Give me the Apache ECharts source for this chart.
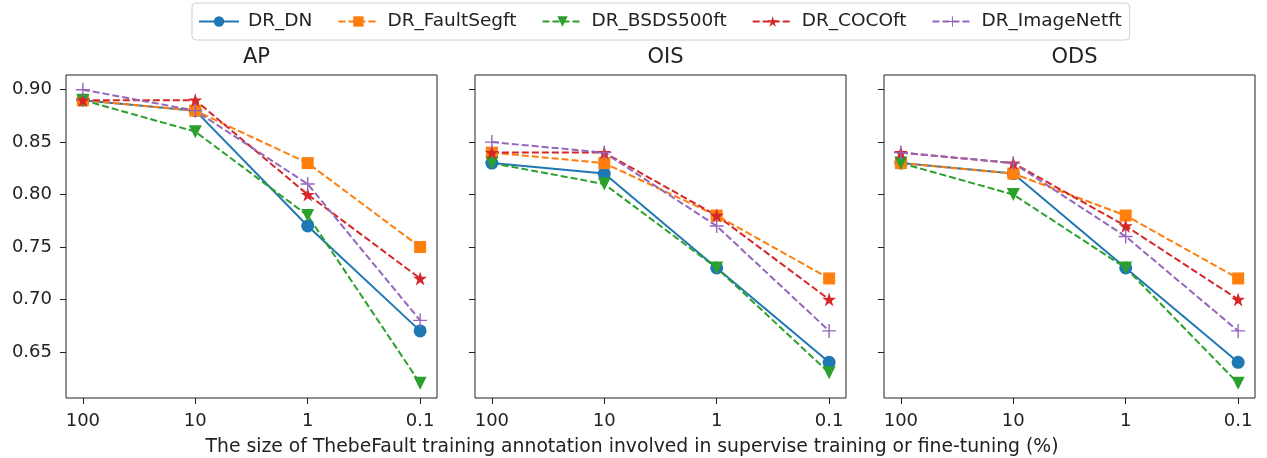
<!DOCTYPE html>
<html>
<head>
<meta charset="utf-8">
<script src="https://cdn.jsdelivr.net/npm/echarts@6/dist/echarts.min.js"></script>
<style>
  html, body { margin: 0; padding: 0; background: #fff; }
  #chart { width: 1267px; height: 458px; }
</style>
</head>
<body>
<div id="chart"></div>
<script>
// annotation sizes (%)
const categories = ['100', '10', '1', '0.1'];
const yTicks = [0.65, 0.70, 0.75, 0.80, 0.85, 0.90];
const panelTitles = ['AP', 'OIS', 'ODS'];
const seriesNames = ['DR_DN', 'DR_FaultSegft', 'DR_BSDS500ft', 'DR_COCOft', 'DR_ImageNetft'];

// values per panel, one row per series
const apDN       = [0.89, 0.88, 0.77, 0.67];
const apFault    = [0.89, 0.88, 0.83, 0.75];
const apBSDS     = [0.89, 0.86, 0.78, 0.62];
const apCOCO     = [0.89, 0.89, 0.80, 0.72];
const apImageNet = [0.90, 0.88, 0.81, 0.68];

const oisDN       = [0.83, 0.82, 0.73, 0.64];
const oisFault    = [0.84, 0.83, 0.78, 0.72];
const oisBSDS     = [0.83, 0.81, 0.73, 0.63];
const oisCOCO     = [0.84, 0.84, 0.78, 0.70];
const oisImageNet = [0.85, 0.84, 0.77, 0.67];

const odsDN       = [0.83, 0.82, 0.73, 0.64];
const odsFault    = [0.83, 0.82, 0.78, 0.72];
const odsBSDS     = [0.83, 0.80, 0.73, 0.62];
const odsCOCO     = [0.84, 0.83, 0.77, 0.70];
const odsImageNet = [0.84, 0.83, 0.76, 0.67];

const panels = [
  [apDN, apFault, apBSDS, apCOCO, apImageNet],
  [oisDN, oisFault, oisBSDS, oisCOCO, oisImageNet],
  [odsDN, odsFault, odsBSDS, odsCOCO, odsImageNet]
];

const FONT = 'DejaVu Sans';
const colors = ['#1f77b4', '#ff7f0e', '#2ca02c', '#d62728', '#9467bd'];
const STAR = 'path://M50,0L61.2,34.5L97.6,34.5L68.2,55.9L79.4,90.5L50,69.1L20.6,90.5L31.8,55.9L2.4,34.5L38.8,34.5Z';
const PLUS = 'path://M4.5,0H5.5V4.5H10V5.5H5.5V10H4.5V5.5H0V4.5H4.5Z';
const styles = [
  { symbol: 'circle', size: 13, rotate: 0, dash: 'solid' },
  { symbol: 'rect', size: 12, rotate: 0, dash: [7, 3] },
  { symbol: 'triangle', size: 13, rotate: 180, dash: [7, 3] },
  { symbol: STAR, size: 14, rotate: 0, dash: [7, 3] },
  { symbol: PLUS, size: 14, rotate: 0, dash: [7, 3] }
];

const gridLefts = [66, 475, 884];
const grids = gridLefts.map(l => ({
  left: l, top: 75, width: 371, height: 323,
  show: true, borderColor: '#222', borderWidth: 1, backgroundColor: 'transparent'
}));

const xAxes = gridLefts.map((_, g) => ({
  type: 'value', gridIndex: g, min: -0.15, max: 3.15, position: 'bottom',
  splitLine: { show: false },
  axisLine: { show: false, onZero: false },
  axisTick: { show: true, customValues: [0, 1, 2, 3], length: 6, lineStyle: { color: '#222' } },
  axisLabel: {
    customValues: [0, 1, 2, 3], margin: 14,
    fontFamily: FONT, fontSize: 18, color: '#222',
    formatter: v => categories[Math.round(v)]
  }
}));

const yAxes = gridLefts.map((_, g) => ({
  type: 'value', gridIndex: g, min: 0.606, max: 0.914, position: 'left',
  splitLine: { show: false },
  axisLine: { show: false, onZero: false },
  axisTick: { show: true, customValues: yTicks, length: 6, lineStyle: { color: '#222' } },
  axisLabel: {
    show: g === 0, customValues: yTicks, margin: 14,
    fontFamily: FONT, fontSize: 18, color: '#222',
    formatter: v => v.toFixed(2)
  }
}));

const series = [];
panels.forEach((rows, g) => {
  rows.forEach((vals, s) => {
    const st = styles[s];
    series.push({
      name: seriesNames[s],
      type: 'line',
      xAxisIndex: g, yAxisIndex: g,
      data: vals.map((v, i) => [i, v]),
      symbol: st.symbol, symbolSize: st.size, symbolRotate: st.rotate,
      showAllSymbol: true,
      color: colors[s],
      lineStyle: { width: 2, type: st.dash, color: colors[s] },
      itemStyle: { color: colors[s] },
      emphasis: { disabled: true },
      animation: false
    });
  });
});

const titles = panelTitles.map((t, g) => ({
  text: t, left: gridLefts[g] + 185.5, top: 42, textAlign: 'center',
  textStyle: { fontFamily: FONT, fontSize: 21, fontWeight: 'normal', color: '#222' }
}));
titles.push({
  text: 'The size of ThebeFault training annotation involved in supervise training or fine-tuning (%)',
  left: 627, top: 433, textAlign: 'center',
  textStyle: { fontFamily: FONT, fontSize: 18.8, fontWeight: 'normal', color: '#222' }
});

const chart = echarts.init(document.getElementById('chart'), null, { renderer: 'canvas' });
chart.setOption({
  backgroundColor: '#fff',
  animation: false,
  title: titles,
  legend: {
    data: seriesNames,
    left: 192, top: 3,
    padding: [9, 8, 9, 6],
    itemGap: 25, itemWidth: 40, itemHeight: 13,
    borderColor: '#d0d0d0', borderWidth: 1, borderRadius: 4,
    textStyle: { fontFamily: FONT, fontSize: 18.5, color: '#222', padding: [0, 0, 0, 4] }
  },
  grid: grids,
  xAxis: xAxes,
  yAxis: yAxes,
  series: series
});
</script>
</body>
</html>
